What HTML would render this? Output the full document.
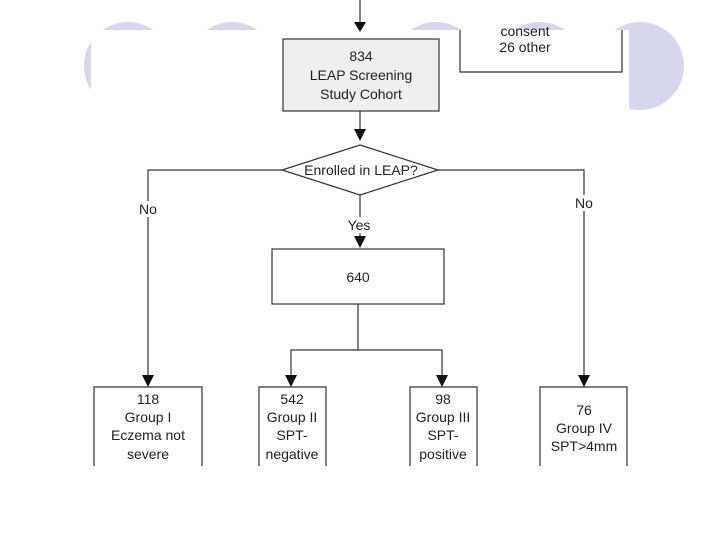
<!DOCTYPE html>
<html><head><style>
body{margin:0;background:#fff;}
svg text{font-family:"Liberation Sans",sans-serif;font-size:14px;fill:#222;text-anchor:middle;}
</style></head><body>
<svg width="720" height="540" viewBox="0 0 720 540">
<g fill="#d6d6ec">
<circle cx="128" cy="66" r="44"/>
<circle cx="232" cy="66" r="44"/>
<circle cx="436" cy="66" r="44"/>
<circle cx="540" cy="66" r="44"/>
<circle cx="640" cy="66" r="44"/>
</g>
<rect x="91" y="30" width="538" height="82" fill="#fff"/>
<g stroke="#333" stroke-width="1.2" fill="none">
<line x1="360" y1="0" x2="360" y2="30"/>
<rect x="283" y="39" width="156" height="72" fill="#efefef"/>
<polyline points="460,30 460,72 622,72 622,30"/>
<line x1="360" y1="111" x2="360" y2="132"/>
<polygon points="360,145 438,170 360,195 282,170" fill="#fff"/>
<polyline points="282,170 148,170 148,375"/>
<polyline points="438,170 584,170 584,375"/>
<line x1="360" y1="195" x2="360" y2="238"/>
<rect x="272" y="249" width="172" height="55" fill="#fff"/>
<polyline points="358,304 358,350 291,350 291,375"/>
<polyline points="358,350 442,350 442,375"/>
<polyline points="94,466 94,387 202,387 202,466"/>
<polyline points="259,466 259,387 326,387 326,466"/>
<polyline points="410,466 410,387 477,387 477,466"/>
<polyline points="540,466 540,387 627,387 627,466"/>
</g>
<g fill="#111">
<polygon points="354,22 366,22 360,32"/>
<polygon points="354,129 366,129 360,141"/>
<polygon points="354,236 366,236 360,248"/>
<polygon points="142,375 154,375 148,387"/>
<polygon points="285,375 297,375 291,387"/>
<polygon points="436,375 448,375 442,387"/>
<polygon points="578,375 590,375 584,387"/>
</g>
<text x="525" y="36">consent</text>
<text x="525" y="52">26 other</text>
<text x="361" y="61">834</text>
<text x="361" y="80">LEAP Screening</text>
<text x="361" y="99">Study Cohort</text>
<text x="361" y="175">Enrolled in LEAP?</text>
<rect x="135" y="201" width="26" height="16" fill="#fff"/>
<text x="148" y="214">No</text>
<rect x="571" y="195" width="26" height="16" fill="#fff"/>
<text x="584" y="208">No</text>
<rect x="344" y="217" width="32" height="16" fill="#fff"/>
<text x="359" y="230">Yes</text>
<text x="358" y="282">640</text>
<text x="148" y="404">118</text>
<text x="148" y="422">Group I</text>
<text x="148" y="440">Eczema not</text>
<text x="148" y="459">severe</text>
<text x="292" y="404">542</text>
<text x="292" y="422">Group II</text>
<text x="292" y="440">SPT-</text>
<text x="292" y="459">negative</text>
<text x="443" y="404">98</text>
<text x="443" y="422">Group III</text>
<text x="443" y="440">SPT-</text>
<text x="443" y="459">positive</text>
<text x="584" y="415">76</text>
<text x="584" y="433">Group IV</text>
<text x="584" y="451">SPT&gt;4mm</text>
</svg>
</body></html>
